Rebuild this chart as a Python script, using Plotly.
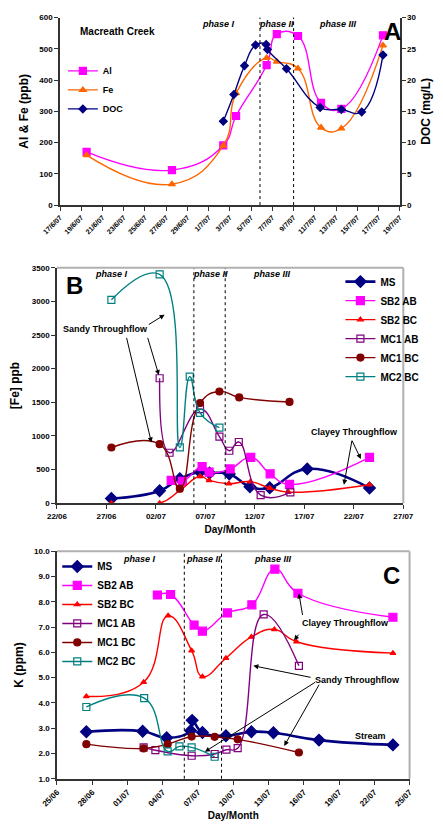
import plotly.graph_objects as go

# ---------------- Panel A data ----------------
A_dates = ["2007-06-19 12:00", "2007-06-27 13:00", "2007-07-02 09:00", "2007-07-03 14:00",
           "2007-07-06 11:00", "2007-07-07 10:00", "2007-07-09 10:00", "2007-07-11 14:00",
           "2007-07-13 12:00", "2007-07-17 10:00"]
A_al = [170, 112, 191, 285, 448, 547, 541, 327, 308, 543]
A_fe = [160, 67, 190, 358, 471, 459, 437, 248, 245, 511]
A_doc_dates = ["2007-07-02 09:00", "2007-07-03 09:00", "2007-07-04 09:00", "2007-07-05 10:00",
               "2007-07-06 10:00", "2007-07-06 13:00", "2007-07-08 08:00", "2007-07-11 12:00",
               "2007-07-13 12:00", "2007-07-15 10:00", "2007-07-17 10:00"]
A_doc = [13.4, 17.7, 22.3, 25.6, 25.7, 24.9, 21.8, 15.6, 15.3, 14.9, 24.0]

# ---------------- Panel B data ([Fe] ppb) ----------------
B_ms_dates = ["2007-06-27 12:00", "2007-07-02 09:00", "2007-07-04 10:00", "2007-07-06 11:00",
              "2007-07-07 10:00", "2007-07-09 10:00", "2007-07-11 12:00", "2007-07-13 12:00",
              "2007-07-17 07:00", "2007-07-23 14:00"]
B_ms = [69, 186, 365, 465, 450, 435, 245, 230, 510, 225]
B_sb2ab_dates = ["2007-07-03 13:00", "2007-07-04 16:00", "2007-07-06 16:00", "2007-07-07 09:00",
                 "2007-07-09 12:00", "2007-07-11 14:00", "2007-07-13 13:00", "2007-07-15 12:00",
                 "2007-07-23 14:00"]
B_sb2ab = [338, 323, 544, 461, 510, 681, 436, 280, 681]
B_sb2bc_dates = ["2007-06-27 12:00", "2007-07-02 09:00", "2007-07-04 10:00", "2007-07-06 11:00",
                 "2007-07-07 09:00", "2007-07-09 09:00", "2007-07-11 13:00", "2007-07-13 12:00",
                 "2007-07-15 09:00", "2007-07-23 14:00"]
B_sb2bc = [0, 0, 190, 400, 340, 290, 320, 225, 165, 275]
B_mc1ab_dates = ["2007-07-02 09:00", "2007-07-03 09:00", "2007-07-06 11:00", "2007-07-08 10:00",
                 "2007-07-09 10:00", "2007-07-10 09:00", "2007-07-12 14:00", "2007-07-15 14:00"]
B_mc1ab = [1858, 750, 1400, 990, 780, 910, 120, 160]
B_mc1bc_dates = ["2007-06-27 12:00", "2007-07-02 09:00", "2007-07-04 10:00", "2007-07-06 11:00",
                 "2007-07-08 10:00", "2007-07-10 10:00", "2007-07-15 12:00"]
B_mc1bc = [828, 877, 216, 1490, 1661, 1573, 1505]
B_mc2bc_dates = ["2007-06-27 12:00", "2007-07-02 09:00", "2007-07-04 10:00", "2007-07-05 10:00",
                 "2007-07-06 11:00", "2007-07-08 10:00"]
B_mc2bc = [3024, 3402, 829, 1882, 1343, 1123]

# ---------------- Panel C data (K ppm) ----------------
C_ms_dates = ["2007-06-27 12:00", "2007-07-02 07:00", "2007-07-04 08:00", "2007-07-06 09:00",
              "2007-07-06 12:00", "2007-07-07 09:00", "2007-07-09 09:00", "2007-07-11 13:00",
              "2007-07-13 10:00", "2007-07-17 07:00", "2007-07-23 14:00"]
C_ms = [2.86, 2.88, 2.62, 2.90, 3.31, 2.83, 2.70, 2.86, 2.82, 2.53, 2.34]
C_sb2ab_dates = ["2007-07-03 13:00", "2007-07-04 16:00", "2007-07-06 16:00", "2007-07-07 09:00",
                 "2007-07-09 12:00", "2007-07-11 14:00", "2007-07-13 13:00", "2007-07-15 12:00",
                 "2007-07-23 14:00"]
C_sb2ab = [8.27, 8.29, 7.08, 6.84, 7.56, 7.88, 9.29, 8.34, 7.39]
C_sb2bc_dates = ["2007-06-27 12:00", "2007-07-02 09:00", "2007-07-04 11:00", "2007-07-06 11:00",
                 "2007-07-07 09:00", "2007-07-09 09:00", "2007-07-11 13:00", "2007-07-13 12:00",
                 "2007-07-15 09:00", "2007-07-23 14:00"]
C_sb2bc = [4.26, 4.82, 7.45, 6.07, 5.04, 5.77, 6.61, 6.91, 6.42, 5.97]
C_mc1ab_dates = ["2007-07-02 09:00", "2007-07-03 09:00", "2007-07-06 11:00", "2007-07-08 10:00",
                 "2007-07-09 10:00", "2007-07-10 09:00", "2007-07-12 14:00", "2007-07-15 14:00"]
C_mc1ab = [2.24, 2.13, 1.91, 1.98, 2.15, 2.21, 7.5, 5.47]
C_mc1bc_dates = ["2007-06-27 12:00", "2007-07-02 09:00", "2007-07-04 10:00", "2007-07-06 11:00",
                 "2007-07-08 10:00", "2007-07-10 09:00", "2007-07-15 14:00"]
C_mc1bc = [2.37, 2.20, 2.37, 2.67, 2.66, 2.56, 2.04]
C_mc2bc_dates = ["2007-06-27 12:00", "2007-07-02 10:00", "2007-07-04 10:00", "2007-07-05 10:00",
                 "2007-07-06 11:00", "2007-07-08 10:00"]
C_mc2bc = [3.84, 4.19, 2.08, 2.28, 2.24, 1.87]

phase_bounds = ["2007-07-05 20:00", "2007-07-09 00:00"]
phase_labels = ["phase I", "phase II", "phase III"]

FONT = "Liberation Sans"
DAY = 86400000

fig = go.Figure()

def add(x, y, name, color, symbol, size, xa, ya, legend, width=1.4):
    fig.add_trace(go.Scatter(
        x=x, y=y, name=name, mode="lines+markers",
        line=dict(color=color, width=width, shape="spline", smoothing=1.3),
        marker=dict(color=color, symbol=symbol, size=size, line=dict(color=color, width=1.2)),
        xaxis=xa, yaxis=ya, legend=legend))

# Panel A
add(A_dates, A_al, "Al", "#FF00FF", "square", 7, "x", "y", "legend")
add(A_dates, A_fe, "Fe", "#FF6600", "triangle-up", 6, "x", "y", "legend")
add(A_doc_dates, A_doc, "DOC", "#000080", "diamond", 6, "x", "y2", "legend")

# Panel B
add(B_ms_dates, B_ms, "MS", "#000080", "diamond", 9, "x2", "y3", "legend2", width=2.6)
add(B_sb2ab_dates, B_sb2ab, "SB2 AB", "#FF00FF", "square", 8, "x2", "y3", "legend2")
add(B_sb2bc_dates, B_sb2bc, "SB2 BC", "#FF0000", "triangle-up", 5, "x2", "y3", "legend2")
add(B_mc1ab_dates, B_mc1ab, "MC1 AB", "#800080", "square-open", 7, "x2", "y3", "legend2")
add(B_mc1bc_dates, B_mc1bc, "MC1 BC", "#800000", "circle", 7, "x2", "y3", "legend2")
add(B_mc2bc_dates, B_mc2bc, "MC2 BC", "#008080", "square-open", 7, "x2", "y3", "legend2")

# Panel C
add(C_ms_dates, C_ms, "MS", "#000080", "diamond", 9, "x3", "y4", "legend3", width=2.6)
add(C_sb2ab_dates, C_sb2ab, "SB2 AB", "#FF00FF", "square", 8, "x3", "y4", "legend3")
add(C_sb2bc_dates, C_sb2bc, "SB2 BC", "#FF0000", "triangle-up", 5, "x3", "y4", "legend3")
add(C_mc1ab_dates, C_mc1ab, "MC1 AB", "#800080", "square-open", 7, "x3", "y4", "legend3")
add(C_mc1bc_dates, C_mc1bc, "MC1 BC", "#800000", "circle", 7, "x3", "y4", "legend3")
add(C_mc2bc_dates, C_mc2bc, "MC2 BC", "#008080", "square-open", 7, "x3", "y4", "legend3")

W, H = 443, 826
def px(v): return v / W
def py(v): return 1 - v / H

tick_font = dict(family=FONT, size=8, color="black", weight="bold")
title_font = dict(family=FONT, size=12, color="black", weight="bold")
axline = dict(showline=True, linecolor="#333333", linewidth=1.5, ticks="outside", ticklen=4,
              tickcolor="#333333", showgrid=False, zeroline=False, tickfont=tick_font)

fig.update_layout(
    width=W, height=H, margin=dict(l=0, r=0, t=0, b=0),
    paper_bgcolor="white", plot_bgcolor="white",
    font=dict(family=FONT, color="black"),
    xaxis=dict(domain=[px(45), px(408.5)], anchor="y", type="date",
               range=["2007-06-17", "2007-07-19"], dtick=2 * DAY, tick0="2007-06-17",
               tickformat="%-d/%-m/%y", tickangle=-45,
               **{**axline, "tickfont": dict(family=FONT, size=7, color="black", weight="bold")}),
    yaxis=dict(domain=[py(203.3), py(13.7)], anchor="x", range=[0, 600], dtick=100,
               title=dict(text="Al & Fe (ppb)", font=title_font, standoff=8), **axline),
    yaxis2=dict(overlaying="y", side="right", anchor="x", range=[0, 30], dtick=5,
                title=dict(text="DOC (mg/L)", font=title_font, standoff=6), **axline),
    xaxis2=dict(domain=[px(41.7), px(412.3)], anchor="y3", type="date",
                range=["2007-06-22", "2007-07-27"], dtick=5 * DAY, tick0="2007-06-22",
                tickformat="%d/%m", tickangle=0,
                title=dict(text="Day/Month", font=dict(family=FONT, size=10, weight="bold"), standoff=6), **axline),
    yaxis3=dict(domain=[py(504.7), py(266.7)], anchor="x2", range=[0, 3500], dtick=500,
                title=dict(text="[Fe] ppb", font=title_font, standoff=10), **axline),
    xaxis3=dict(domain=[px(41.7), px(419)], anchor="y4", type="date",
                range=["2007-06-25", "2007-07-25"], dtick=3 * DAY, tick0="2007-06-25",
                tickformat="%d/%m", tickangle=-45,
                title=dict(text="Day/Month", font=dict(family=FONT, size=10, weight="bold"), standoff=4), **axline),
    yaxis4=dict(domain=[py(783.3), py(553.3)], anchor="x3", range=[1, 10], dtick=1, tickformat=".1f",
                title=dict(text="K (ppm)", font=title_font, standoff=8), **axline),
    legend=dict(x=px(48), y=py(53), xanchor="left", yanchor="top", bgcolor="rgba(0,0,0,0)",
                font=dict(family=FONT, size=9, weight="bold"), tracegroupgap=0, itemwidth=30),
    legend2=dict(x=px(345), y=py(266), xanchor="left", yanchor="top", bgcolor="rgba(0,0,0,0)",
                 font=dict(family=FONT, size=10, weight="bold"), itemwidth=30),
    legend3=dict(x=px(42), y=py(554), xanchor="left", yanchor="top", bgcolor="rgba(0,0,0,0)",
                 font=dict(family=FONT, size=10, weight="bold"), itemwidth=30),
    showlegend=True,
)

shapes = []
for xa, ya in [("x", "y"), ("x2", "y3"), ("x3", "y4")]:
    for d in phase_bounds:
        shapes.append(dict(type="line", xref=xa, yref=ya + " domain", x0=d, x1=d, y0=0, y1=1,
                           line=dict(color="black", width=1, dash="dot")))
for xa, ya in [("x2", "y3"), ("x3", "y4")]:
    shapes.append(dict(type="line", xref=xa + " domain", yref=ya + " domain", x0=0, x1=1, y0=1, y1=1,
                       line=dict(color="#b0b0b0", width=2)))
    shapes.append(dict(type="line", xref=xa + " domain", yref=ya + " domain", x0=1, x1=1, y0=0, y1=1,
                       line=dict(color="#b0b0b0", width=2)))
fig.update_layout(shapes=shapes)

ann = []
def txt(x, y, t, xref, yref, size=9, italic=False, xanchor="center"):
    ann.append(dict(x=x, y=y, xref=xref, yref=yref, text=("<i>%s</i>" % t) if italic else t,
                    showarrow=False, xanchor=xanchor, yanchor="middle",
                    font=dict(family=FONT, size=size, color="black", weight="bold")))

def arrow(head, tail, xa, ya):
    ann.append(dict(x=head[0], y=head[1], ax=tail[0], ay=tail[1], xref=xa, yref=ya, axref=xa, ayref=ya,
                    text="", showarrow=True, arrowhead=2, arrowsize=1, arrowwidth=1, arrowcolor="black"))

# Panel A texts
phaseA = ["2007-07-01 23:00", "2007-07-07 10:00", "2007-07-13 04:00"]
for x, t in zip(phaseA, phase_labels):
    txt(x, 0.967, t, "x", "y domain", size=9, italic=True)
txt("2007-06-18 16:00", 0.925, "Macreath Creek", "x", "y domain", size=10, xanchor="left")
txt("2007-07-18 08:00", 0.925, "A", "x", "y domain", size=24)

# Panel B texts
phaseB = ["2007-06-27 12:00", "2007-07-07 12:00", "2007-07-13 18:00"]
for x, t in zip(phaseB, phase_labels):
    txt(x, 0.972, t, "x2", "y3 domain", size=9, italic=True)
txt("2007-06-23 18:00", 0.925, "B", "x2", "y3 domain", size=24)
txt("2007-06-26 22:00", 2597, "Sandy Throughflow", "x2", "y3", size=9)
arrow(("2007-07-02 21:00", 2803), ("2007-07-01 03:00", 2642), "x2", "y3")
arrow(("2007-07-02 07:00", 1906), ("2007-07-01 03:00", 2480), "x2", "y3")
arrow(("2007-07-01 13:00", 903), ("2007-06-29 00:00", 2480), "x2", "y3")
txt("2007-07-22 01:00", 1054, "Clayey Throughflow", "x2", "y3", size=9)
arrow(("2007-07-22 17:00", 657), ("2007-07-21 18:00", 951), "x2", "y3")
arrow(("2007-07-21 00:00", 275), ("2007-07-21 20:00", 951), "x2", "y3")

# Panel C texts
phaseC = ["2007-07-02 00:00", "2007-07-07 12:00", "2007-07-13 09:00"]
for x, t in zip(phaseC, phase_labels):
    txt(x, 0.967, t, "x3", "y4 domain", size=9, italic=True)
txt("2007-07-23 11:00", 0.895, "C", "x3", "y4 domain", size=24)
txt("2007-07-19 13:00", 7.15, "Clayey Throughflow", "x3", "y4", size=9)
arrow(("2007-07-15 14:00", 8.33), ("2007-07-15 22:00", 7.42), "x3", "y4")
arrow(("2007-07-15 04:00", 6.48), ("2007-07-15 16:00", 6.76), "x3", "y4")
txt("2007-07-20 13:00", 4.91, "Sandy Throughflow", "x3", "y4", size=9)
arrow(("2007-07-11 17:00", 5.47), ("2007-07-16 17:00", 5.0), "x3", "y4")
arrow(("2007-07-07 14:00", 2.07), ("2007-07-17 02:00", 4.85), "x3", "y4")
arrow(("2007-07-14 08:00", 2.30), ("2007-07-17 09:00", 4.78), "x3", "y4")
txt("2007-07-21 16:00", 2.69, "Stream", "x3", "y4", size=9)

fig.update_layout(annotations=ann)
fig.write_html("out.html")
